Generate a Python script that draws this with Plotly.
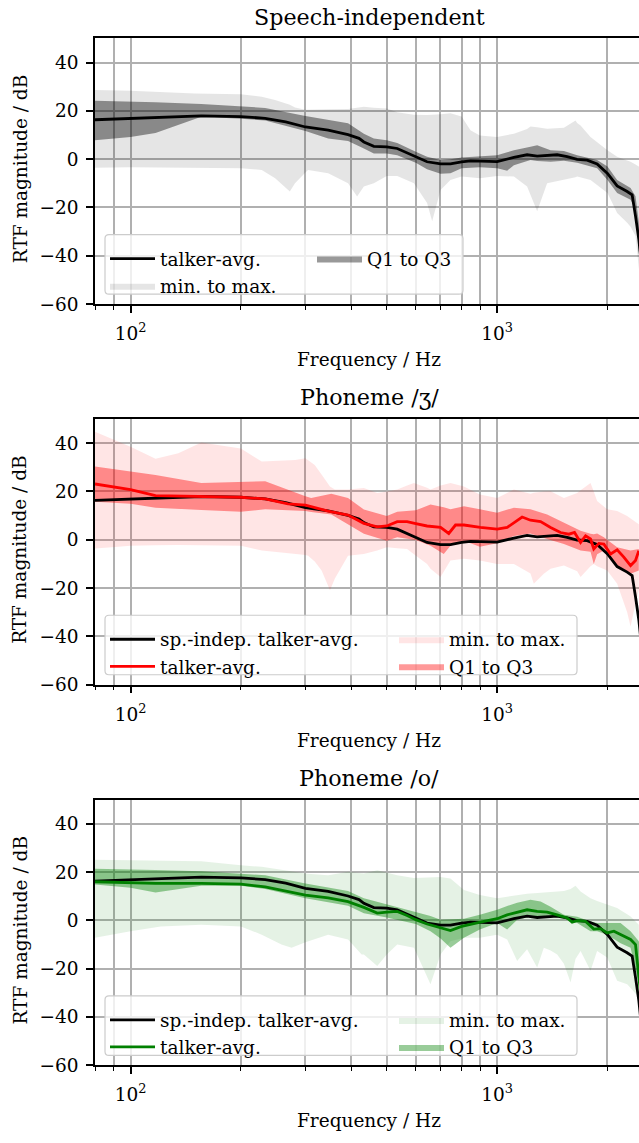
import math
import plotly.graph_objects as go

# ---------------------------------------------------------------- data (dB)
# Speech-independent RTF: talker average, quartile band and min/max band
SI_AVG_F = [80, 100, 117, 156, 200, 233, 265, 300, 346, 392, 420, 433, 461, 500, 534, 568, 600, 644,
            701, 746, 800, 846, 900, 1000, 1111, 1207, 1286, 1369, 1458, 1552, 1653, 1760, 1874,
            2000, 2125, 2263, 2335, 2385, 2435, 2500]
SI_AVG = [16.3, 16.9, 17.3, 17.9, 17.6, 16.9, 15.4, 13.3, 12.0, 10.1, 8.6, 7.1, 5.3, 5.1, 4.4, 2.6, 1.0, -1.1,
          -2.0, -2.0, -1.1, -0.7, -0.8, -1.0, 0.7, 1.8, 1.2, 1.4, 1.8, 1.0, -0.1, -0.4, -2.0,
          -5.9, -11.1, -13.4, -14.8, -23.6, -33.2, -50.0]

SI_Q_F = [80, 100, 117, 156, 200, 233, 300, 346, 392, 433, 461, 500, 534, 600, 644, 701, 746, 800, 897, 1000,
          1065, 1111, 1233, 1286, 1399, 1521, 1653, 1874, 2000, 2125, 2312, 2385, 2435, 2500]
SI_Q1 = [7.8, 9.2, 10.8, 17.5, 16.7, 16.0, 11.6, 8.5, 7.5, 4.4, 2.3, 2.3, 1.6, -1.5, -4.2, -6.1, -5.9, -3.8, -3.4, -3.8,
         -4.8, -2.5, -0.4, -0.8, -1.1, -0.7, -1.5, -3.8, -8.6, -14.0, -16.8, -21.0, -38.0, -55.0]
SI_Q3 = [24.2, 23.9, 23.5, 22.8, 21.9, 21.2, 17.8, 16.2, 14.9, 10.5, 8.5, 7.8, 6.7, 3.0, 1.0, -0.4, -0.1, 0.7, 1.2, 1.6,
         2.8, 3.7, 5.1, 5.7, 3.7, 3.4, 1.6, -0.4, -3.1, -8.6, -12.0, -15.4, -26.0, -45.0]

SI_MM_F = [80, 100, 150, 200, 228, 248, 272, 281, 300, 305, 346, 392, 415, 433, 461, 500, 534, 593, 644, 665,
           701, 746, 800, 846, 897, 1000, 1111, 1207, 1233, 1286, 1369, 1521, 1636, 1653, 1689, 1798,
           2000, 2125, 2263, 2312, 2385, 2435, 2500]
SI_MIN = [-3.6, -3.4, -3.6, -3.8, -4.5, -7.9, -13.4, -10.0, -5.5, -4.5, -5.9, -10.0, -15.5, -11.3, -10.0, -7.0,
          -7.0, -10.0, -18.2, -25.7, -12.8, -8.6, -7.2, -7.5, -7.9, -7.0, -7.2, -11.3, -15.0, -21.6, -10.0,
          -8.6, -7.5, -7.2, -7.5, -8.6, -14.0, -22.3, -26.4, -28.0, -31.8, -45.0, -60.0]
SI_MAX = [28.6, 28.3, 27.2, 26.9, 25.8, 24.5, 22.5, 21.4, 20.4, 20.4, 20.6, 20.8, 21.2, 21.7, 21.3, 21.0,
          19.4, 18.4, 18.3, 18.3, 18.6, 19.0, 17.6, 11.9, 9.8, 9.2, 10.5, 12.5, 13.5, 13.2, 12.6,
          13.0, 16.0, 15.0, 13.9, 9.2, 3.7, 1.0, -0.5, -1.1, -2.2, -3.1, -5.0]

# Phoneme /ʒ/
ZH_AVG_F = [80, 100, 117, 156, 200, 233, 269, 300, 346, 392, 433, 471, 500, 534, 568, 600, 644, 701, 738, 770,
            812, 900, 1000, 1065, 1111, 1170, 1233, 1314, 1399, 1489, 1569, 1626, 1689, 1743, 1798, 1835,
            1894, 1955, 2039, 2125, 2216, 2312, 2385, 2435]
ZH_AVG = [23.1, 20.8, 18.3, 17.9, 17.6, 16.9, 14.9, 14.3, 11.9, 10.2, 6.8, 5.3, 5.7, 7.5, 7.5, 6.7, 5.7, 5.1, 2.6, 6.1,
          6.1, 5.1, 4.4, 5.1, 7.1, 9.4, 8.1, 7.5, 5.1, 3.0, 2.3, 3.0, -1.1, 1.6, 0.3, -3.8,
          -1.5, -1.8, -5.9, -4.2, -7.2, -10.7, -8.6, -4.5]

ZH_Q_F = [80, 100, 117, 156, 200, 233, 300, 311, 353, 392, 433, 500, 534, 600, 658, 715, 746, 812, 897, 1000,
          1111, 1233, 1369, 1521, 1689, 1798, 1835, 1874, 1955, 2125, 2312, 2435]
ZH_Q1 = [15.7, 14.9, 13.3, 12.3, 11.6, 12.6, 11.9, 11.5, 10.5, 6.4, 2.5, -0.4, 1.0, -0.1, -2.5, -5.9, -2.5, -0.4, -2.9,
         -1.5, 1.6, 2.6, 0.3, -1.8, -4.5, -5.0, -10.0, -6.0, -4.5, -11.3, -14.1, -12.7]
ZH_Q3 = [30.3, 28.3, 26.8, 23.5, 23.9, 24.2, 18.0, 17.3, 19.0, 17.3, 12.5, 9.8, 11.6, 12.2, 14.6, 13.5, 12.6, 13.9, 12.6,
         11.2, 13.3, 12.6, 10.5, 7.1, 3.7, 2.5, 2.3, 2.6, 1.0, -3.1, -4.5, -3.8]

ZH_MM_F = [80, 91, 100, 117, 135, 156, 200, 228, 281, 300, 305, 318, 332, 346, 350, 361, 376, 392, 433, 471,
           500, 534, 568, 593, 644, 658, 701, 746, 812, 897, 1000, 1111, 1233, 1259, 1341, 1399, 1521, 1653,
           1689, 1798, 1835, 1874, 1996, 2125, 2263, 2312, 2385, 2435]
ZH_MIN = [-3.6, -3.0, -2.5, -2.3, -2.2, -2.2, -2.5, -4.5, -5.9, -6.3, -6.6, -9.0, -12.7, -19.0, -20.9, -16.0, -11.3,
          -6.6, -5.9, -4.5, -3.1, -3.5, -3.8, -6.0, -10.0, -12.0, -15.4, -8.6, -7.9, -8.6, -10.0, -10.0, -14.0,
          -18.2, -14.1, -12.0, -10.7, -13.0, -15.4, -11.0, -10.0, -11.0, -12.7, -18.2, -30.0, -35.9, -26.4, -20.9]
ZH_MAX = [44.7, 41.3, 38.5, 33.5, 35.8, 40.3, 37.8, 32.4, 33.0, 33.7, 33.0, 31.0, 27.0, 22.8, 22.0, 20.8, 20.8,
          20.8, 21.4, 19.4, 20.0, 20.8, 22.5, 23.5, 21.5, 20.8, 22.5, 23.5, 22.1, 18.7, 17.3, 20.8, 19.0,
          19.5, 20.0, 20.1, 17.3, 19.4, 20.5, 23.5, 20.0, 16.0, 12.6, 11.9, 9.8, 8.8, 7.5, 6.4]

# Phoneme /o/
O_AVG_F = [80, 100, 117, 156, 200, 233, 300, 346, 392, 433, 471, 500, 534, 568, 600, 644, 701, 746, 800, 846, 900,
           1000, 1065, 1111, 1207, 1286, 1369, 1458, 1552, 1602, 1653, 1743, 1835, 1915, 1996, 2082,
           2171, 2312, 2385, 2435, 2500]
O_AVG = [16.0, 15.7, 15.3, 15.3, 15.0, 13.9, 10.5, 9.3, 7.8, 5.4, 3.0, 3.4, 3.7, 2.0, 0.3, -1.5, -2.9, -4.2, -2.5,
         -1.5, -0.7, 0.7, 2.3, 3.0, 4.4, 3.7, 3.4, 2.3, 1.0, -0.7, -0.1, -0.4, -3.6, -3.4, -5.2, -4.5,
         -5.9, -7.9, -10.0, -22.3, -40.0]

O_Q_F = [80, 100, 117, 156, 200, 233, 300, 392, 433, 500, 600, 658, 701, 746, 812, 897, 1000, 1065, 1134, 1233,
         1314, 1399, 1521, 1653, 1798, 1874, 1996, 2125, 2171, 2312, 2435, 2500]
O_Q1 = [14.9, 13.5, 11.5, 14.3, 14.3, 13.0, 9.2, 6.1, 3.0, 1.2, -1.5, -4.5, -7.5, -11.3, -7.2, -3.8, -1.1, -3.8, 0.3,
        1.6, 1.6, 1.6, 0.7, -1.1, -4.5, -4.5, -5.9, -8.6, -9.5, -11.3, -26.4, -45.0]
O_Q3 = [21.4, 21.2, 20.9, 20.4, 19.4, 18.7, 15.3, 12.2, 9.2, 6.7, 3.7, 1.8, 0.3, 0.5, 0.7, 2.3, 4.4, 6.0, 7.3,
        8.5, 7.8, 5.7, 2.3, 1.5, -0.5, -1.1, -1.1, -1.1, -1.1, -4.5, -8.6, -20.0]

O_MM_F = [80, 100, 121, 156, 200, 228, 258, 275, 300, 305, 346, 392, 427, 433, 471, 500, 534, 593, 658, 701,
          746, 812, 897, 1000, 1065, 1134, 1207, 1286, 1341, 1399, 1458, 1521, 1586, 1636, 1689, 1798,
          1874, 1996, 2125, 2263, 2312, 2435]
O_MIN = [-7.2, -4.5, -2.5, -1.8, -2.5, -5.9, -10.0, -11.3, -9.0, -8.6, -5.9, -7.9, -14.1, -14.1, -18.9, -14.1,
         -10.0, -11.3, -26.4, -14.1, -8.6, -7.2, -7.2, -5.9, -7.9, -16.8, -12.0, -19.5, -11.3, -12.5, -14.1,
         -18.0, -25.7, -16.0, -12.7, -20.9, -12.7, -15.4, -25.0, -26.4, -28.0, -31.8]
O_MAX = [25.1, 24.9, 24.7, 24.5, 22.8, 22.2, 21.0, 20.2, 19.4, 19.3, 18.7, 20.1, 19.6, 19.4, 20.8, 19.8, 18.7,
         17.6, 17.8, 18.0, 17.3, 12.6, 10.5, 9.2, 9.8, 10.5, 11.0, 11.3, 11.5, 11.9, 12.0, 12.2, 13.0,
         14.3, 12.0, 9.2, 8.0, 6.4, 5.1, 2.5, 1.6, -1.8]

TITLES = ["Speech-independent", "Phoneme /ʒ/", "Phoneme /o/"]
X_TICKS = [100, 1000]
X_TICK_TEXT = ["10<sup>2</sup>", "10<sup>3</sup>"]
X_MINOR = [80, 90, 200, 300, 400, 500, 600, 700, 800, 900, 2000]
Y_TICKS = [-60, -40, -20, 0, 20, 40]

# ---------------------------------------------------------------- layout
W, H = 639, 1143
FONT = "DejaVu Serif"
FS = 18.5
AX_LEFT = 95
PANEL_TOPS = [38.7, 422.7, 806.7]
PANEL_H = 268
DECADE_PX = 366.6
X_LO = math.log10(80)
X_HI = X_LO + (W - AX_LEFT) / DECADE_PX
GRID = "#b0b0b0"

# legend frames (pixel geometry): left, right, column-2 start, top offset below the panel top, height
LEG_LEFT = 105
LEG_RIGHT = [463, 577, 577]
LEG_COL2 = [312, 394, 394]
LEG_TOP_OFF = 198.0
LEG_HEIGHT = 60
LEG_ITEM_W = 45

fig = go.Figure()


def axes_ref(k):
    return ("x" if k == 1 else f"x{k}"), ("y" if k == 1 else f"y{k}")


def band(f, lo, hi, color, name, k, leg, rank):
    xa, ya = axes_ref(k)
    return go.Scatter(
        x=list(f) + list(f)[::-1], y=list(hi) + list(lo)[::-1],
        fill="toself", fillcolor=color, mode="lines", line=dict(width=0),
        name=name, legendrank=rank, legend=leg, hoverinfo="skip", xaxis=xa, yaxis=ya,
    )


def curve(f, v, color, name, k, leg, rank):
    xa, ya = axes_ref(k)
    return go.Scatter(
        x=f, y=v, mode="lines", line=dict(color=color, width=2.8),
        name=name, legendrank=rank, legend=leg, hoverinfo="skip", xaxis=xa, yaxis=ya,
    )


# panel 1: speech-independent
fig.add_trace(band(SI_MM_F, SI_MIN, SI_MAX, "rgba(0,0,0,0.1)", "min. to max.", 1, "legend", 2))
fig.add_trace(band(SI_Q_F, SI_Q1, SI_Q3, "rgba(0,0,0,0.4)", "Q1 to Q3", 1, "legend2", 1))
fig.add_trace(curve(SI_AVG_F, SI_AVG, "black", "talker-avg.", 1, "legend", 1))

# panel 2: /ʒ/
fig.add_trace(band(ZH_MM_F, ZH_MIN, ZH_MAX, "rgba(255,0,0,0.1)", "min. to max.", 2, "legend4", 1))
fig.add_trace(band(ZH_Q_F, ZH_Q1, ZH_Q3, "rgba(255,0,0,0.4)", "Q1 to Q3", 2, "legend4", 2))
fig.add_trace(curve(SI_AVG_F, SI_AVG, "black", "sp.-indep. talker-avg.", 2, "legend3", 1))
fig.add_trace(curve(ZH_AVG_F, ZH_AVG, "red", "talker-avg.", 2, "legend3", 2))

# panel 3: /o/
fig.add_trace(band(O_MM_F, O_MIN, O_MAX, "rgba(0,128,0,0.1)", "min. to max.", 3, "legend6", 1))
fig.add_trace(band(O_Q_F, O_Q1, O_Q3, "rgba(0,128,0,0.4)", "Q1 to Q3", 3, "legend6", 2))
fig.add_trace(curve(SI_AVG_F, SI_AVG, "black", "sp.-indep. talker-avg.", 3, "legend5", 1))
fig.add_trace(curve(O_AVG_F, O_AVG, "green", "talker-avg.", 3, "legend5", 2))

tickfont = dict(family=FONT, size=FS, color="black")
layout = dict(
    width=W, height=H, margin=dict(l=0, r=0, t=0, b=0),
    paper_bgcolor="white", plot_bgcolor="white",
    font=dict(family=FONT, size=FS, color="black"),
    annotations=[], shapes=[],
)


def rounded_frame(x0p, x1p, y0p, y1p, r=4):
    # rounded rectangle in paper coordinates from pixel corners (top-left origin)
    X = lambda px: px / W
    Y = lambda py: 1 - py / H
    return (f"M{X(x0p + r)},{Y(y0p)} L{X(x1p - r)},{Y(y0p)} Q{X(x1p)},{Y(y0p)} {X(x1p)},{Y(y0p + r)} "
            f"L{X(x1p)},{Y(y1p - r)} Q{X(x1p)},{Y(y1p)} {X(x1p - r)},{Y(y1p)} "
            f"L{X(x0p + r)},{Y(y1p)} Q{X(x0p)},{Y(y1p)} {X(x0p)},{Y(y1p - r)} "
            f"L{X(x0p)},{Y(y0p + r)} Q{X(x0p)},{Y(y0p)} {X(x0p + r)},{Y(y0p)} Z")


cx = (AX_LEFT + AX_LEFT + DECADE_PX * (math.log10(2500) - X_LO)) / 2 / W
for i, top in enumerate(PANEL_TOPS):
    k = i + 1
    sx = "" if k == 1 else str(k)
    bottom = top + PANEL_H
    layout["xaxis" + sx] = dict(
        type="log", range=[X_LO, X_HI], domain=[AX_LEFT / W, 1], anchor="y" + sx,
        tickvals=X_TICKS, ticktext=X_TICK_TEXT, ticks="outside", ticklen=7, tickwidth=1.5,
        tickcolor="black", tickfont=tickfont, ticklabelstandoff=5,
        showgrid=True, gridcolor=GRID, gridwidth=1.5, zeroline=False,
        showline=True, linecolor="black", linewidth=1.5, mirror=True,
        minor=dict(tickvals=X_MINOR, ticks="outside", ticklen=4, tickwidth=1.2, tickcolor="black",
                   showgrid=True, gridcolor=GRID, gridwidth=1.5),
    )
    layout["yaxis" + sx] = dict(
        range=[-60, 50], domain=[1 - bottom / H, 1 - top / H], anchor="x" + sx,
        tickvals=Y_TICKS, ticks="outside", ticklen=7, tickwidth=1.5, tickcolor="black",
        tickfont=tickfont, ticklabelstandoff=4,
        showgrid=True, gridcolor=GRID, gridwidth=1.5, zeroline=False,
        showline=True, linecolor="black", linewidth=1.5,
    )

    # two-column legend: a rounded frame plus one legend per column
    ltop = top + LEG_TOP_OFF
    layout["shapes"].append(dict(
        type="path", xref="paper", yref="paper", layer="above",
        path=rounded_frame(LEG_LEFT, LEG_RIGHT[i], ltop, ltop + LEG_HEIGHT),
        fillcolor="rgba(255,255,255,0.8)", line=dict(color="#cccccc", width=1.2),
    ))
    for j, lx in enumerate([LEG_LEFT, LEG_COL2[i]]):
        name = "legend" + ("" if (2 * i + j) == 0 else str(2 * i + j + 1))
        layout[name] = dict(
            x=lx / W, y=1 - (ltop + 5.5) / H, xanchor="left", yanchor="top",
            orientation="v", traceorder="normal", itemwidth=LEG_ITEM_W,
            font=dict(family=FONT, size=FS, color="black"),
            bgcolor="rgba(0,0,0,0)", borderwidth=0,
        )

    layout["annotations"] += [
        dict(text=TITLES[i], x=cx, y=1 - (top - 22) / H, xref="paper", yref="paper",
             xanchor="center", yanchor="middle", showarrow=False,
             font=dict(family=FONT, size=22.2, color="black")),
        dict(text="Frequency / Hz", x=cx, y=1 - (bottom + 56) / H, xref="paper", yref="paper",
             xanchor="center", yanchor="middle", showarrow=False,
             font=dict(family=FONT, size=FS, color="black")),
        dict(text="RTF magnitude / dB", x=20 / W, y=1 - (top + 132) / H, xref="paper", yref="paper",
             xanchor="center", yanchor="middle", textangle=-90, showarrow=False,
             font=dict(family=FONT, size=FS, color="black")),
    ]

fig.update_layout(**layout)
fig.write_html("out.html")
